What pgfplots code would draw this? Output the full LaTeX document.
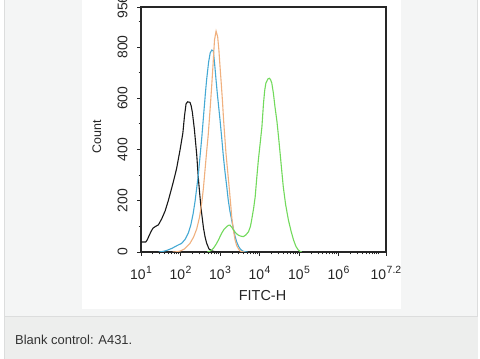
\documentclass[border=0pt]{standalone}
\usepackage{pgfplots}
\pgfplotsset{compat=1.18}
\usepackage{fontspec}
\setmainfont{Liberation Sans}
\definecolor{panelbg}{HTML}{F4F5F5}
\definecolor{capbg}{HTML}{EDEEED}
\definecolor{panelline}{HTML}{DCDDDD}
\definecolor{cblue}{HTML}{45A9D4}
\definecolor{corange}{HTML}{F0B07E}
\definecolor{cgreen}{HTML}{72DA5C}
\definecolor{ctext}{HTML}{333333}
\newcommand{\supx}[1]{\kern0.5pt\raisebox{0.42em}{\fontsize{10.5}{11}\selectfont #1}}
\begin{document}
\begin{tikzpicture}
\useasboundingbox (0,0) rectangle (480bp,359bp);
\clip (0,0) rectangle (480bp,359bp);
\fill[white] (0,0) rectangle (480bp,359bp);
% upper panel
\fill[panelbg] (4bp,43bp) rectangle (478bp,359bp);
\fill[capbg] (4bp,0bp) rectangle (478bp,42bp);
\draw[panelline, line width=1bp] (4.5bp,0) -- (4.5bp,359bp);
\draw[panelline, line width=1bp] (477.5bp,42bp) -- (477.5bp,359bp);
\draw[panelline, line width=1bp] (4bp,42.5bp) -- (478bp,42.5bp);
% white figure area
\fill[white] (82bp,50bp) rectangle (401bp,359bp);
% caption
\node[anchor=west, text=ctext, font=\fontsize{13}{15}\selectfont, inner sep=0pt] at (15bp,19bp) {Blank control: A431.};
\begin{axis}[
  at={(141bp,107bp)}, anchor=south west,
  scale only axis, width=245bp, height=245bp,
  xmin=1, xmax=7.2, ymin=0, ymax=956,
  axis line style={black!85, line width=1.1bp},
  tick align=outside, tick pos=left,
  major tick length=4bp, minor tick length=2.5bp,
  every tick/.style={black!85, line width=0.8bp},
  xtick={1,2,3,4,5,6,7.2},
  xticklabels={10\supx{1},10\supx{2},10\supx{3},10\supx{4},10\supx{5},10\supx{6},10\supx{7.2}},
  minor xtick={1.301,1.477,1.602,1.699,1.778,1.845,1.903,1.954,
               2.301,2.477,2.602,2.699,2.778,2.845,2.903,2.954,
               3.301,3.477,3.602,3.699,3.778,3.845,3.903,3.954,
               4.301,4.477,4.602,4.699,4.778,4.845,4.903,4.954,
               5.301,5.477,5.602,5.699,5.778,5.845,5.903,5.954,
               6.301,6.477,6.602,6.699,6.778,6.845,6.903,6.954,7.0},
  ytick={0,200,400,600,800,956},
  yticklabels={0,200,400,600,800,956},
  minor ytick={100,300,500,700,900},
  tick label style={font=\fontsize{14}{16}\selectfont, text=black!85},
  yticklabel style={xshift=-6bp, rotate=90, anchor=south},
  xticklabel style={yshift=-7bp},
  xlabel={FITC-H}, ylabel={Count},
  xlabel style={font=\fontsize{14.5}{16}\selectfont, text=black!85, at={(axis description cs:0.496,-0.178)}, anchor=center},
  ylabel style={font=\fontsize{12.5}{14}\selectfont, text=black!85, at={(axis description cs:-0.18,0.47)}, anchor=center, rotate=0},
  clip=true,
]
% black
\addplot[black!90, line width=1.1bp] coordinates {
(1.00,39) (1.12,39) (1.16,48) (1.20,62) (1.26,82) (1.31,94) (1.37,100) (1.44,106) (1.52,128) (1.61,160) (1.69,200) (1.76,240) (1.82,275) (1.90,325) (1.99,400) (2.06,465) (2.10,530) (2.14,578) (2.18,586) (2.24,584) (2.27,570) (2.30,545) (2.35,480) (2.41,380) (2.45,290) (2.49,220) (2.52,170) (2.58,95) (2.62,60) (2.66,35) (2.72,12) (2.80,4) (2.87,1) (3.00,0)
};
% blue
\addplot[cblue, line width=1.1bp] coordinates {
(1.45,0) (1.55,2) (1.65,6) (1.78,14) (1.90,24) (2.03,34) (2.12,50) (2.20,75) (2.26,105) (2.32,150) (2.37,200) (2.41,250) (2.45,300) (2.48,350) (2.54,450) (2.59,545) (2.63,620) (2.66,671) (2.71,740) (2.75,776) (2.79,788) (2.83,785) (2.87,723) (2.90,670) (2.93,620) (3.00,515) (3.04,450) (3.08,380) (3.12,320) (3.17,255) (3.21,200) (3.25,160) (3.30,120) (3.34,90) (3.38,62) (3.42,40) (3.47,22) (3.51,12) (3.57,4) (3.63,1) (3.70,0)
};
% orange
\addplot[corange, line width=1.1bp] coordinates {
(1.80,0) (1.90,1) (2.00,4) (2.10,12) (2.24,34) (2.33,58) (2.41,90) (2.48,135) (2.54,195) (2.58,250) (2.62,320) (2.66,390) (2.70,455) (2.75,560) (2.79,650) (2.82,723) (2.86,827) (2.90,862) (2.94,840) (2.97,790) (3.00,723) (3.03,660) (3.06,593) (3.09,515) (3.12,450) (3.15,386) (3.19,320) (3.23,255) (3.27,185) (3.30,130) (3.34,85) (3.38,47) (3.42,26) (3.46,14) (3.50,5) (3.55,1) (3.62,0)
};
% green
\addplot[cgreen, line width=1.1bp] coordinates {
(2.68,0) (2.74,3) (2.79,8) (2.83,14) (2.90,30) (2.96,47) (3.00,60) (3.04,73) (3.10,88) (3.17,99) (3.21,104) (3.25,105) (3.30,96) (3.34,86) (3.40,74) (3.46,66) (3.52,62) (3.59,60) (3.65,66) (3.72,79) (3.77,100) (3.80,125) (3.85,170) (3.89,216) (3.93,290) (3.97,359) (4.02,430) (4.06,489) (4.10,580) (4.13,630) (4.16,659) (4.21,675) (4.25,678) (4.28,672) (4.31,659) (4.35,620) (4.39,567) (4.44,510) (4.48,450) (4.52,386) (4.56,320) (4.60,255) (4.66,185) (4.73,125) (4.80,80) (4.86,47) (4.92,22) (4.98,8) (5.03,2) (5.07,0)
};
\end{axis}
\end{tikzpicture}
\end{document}
